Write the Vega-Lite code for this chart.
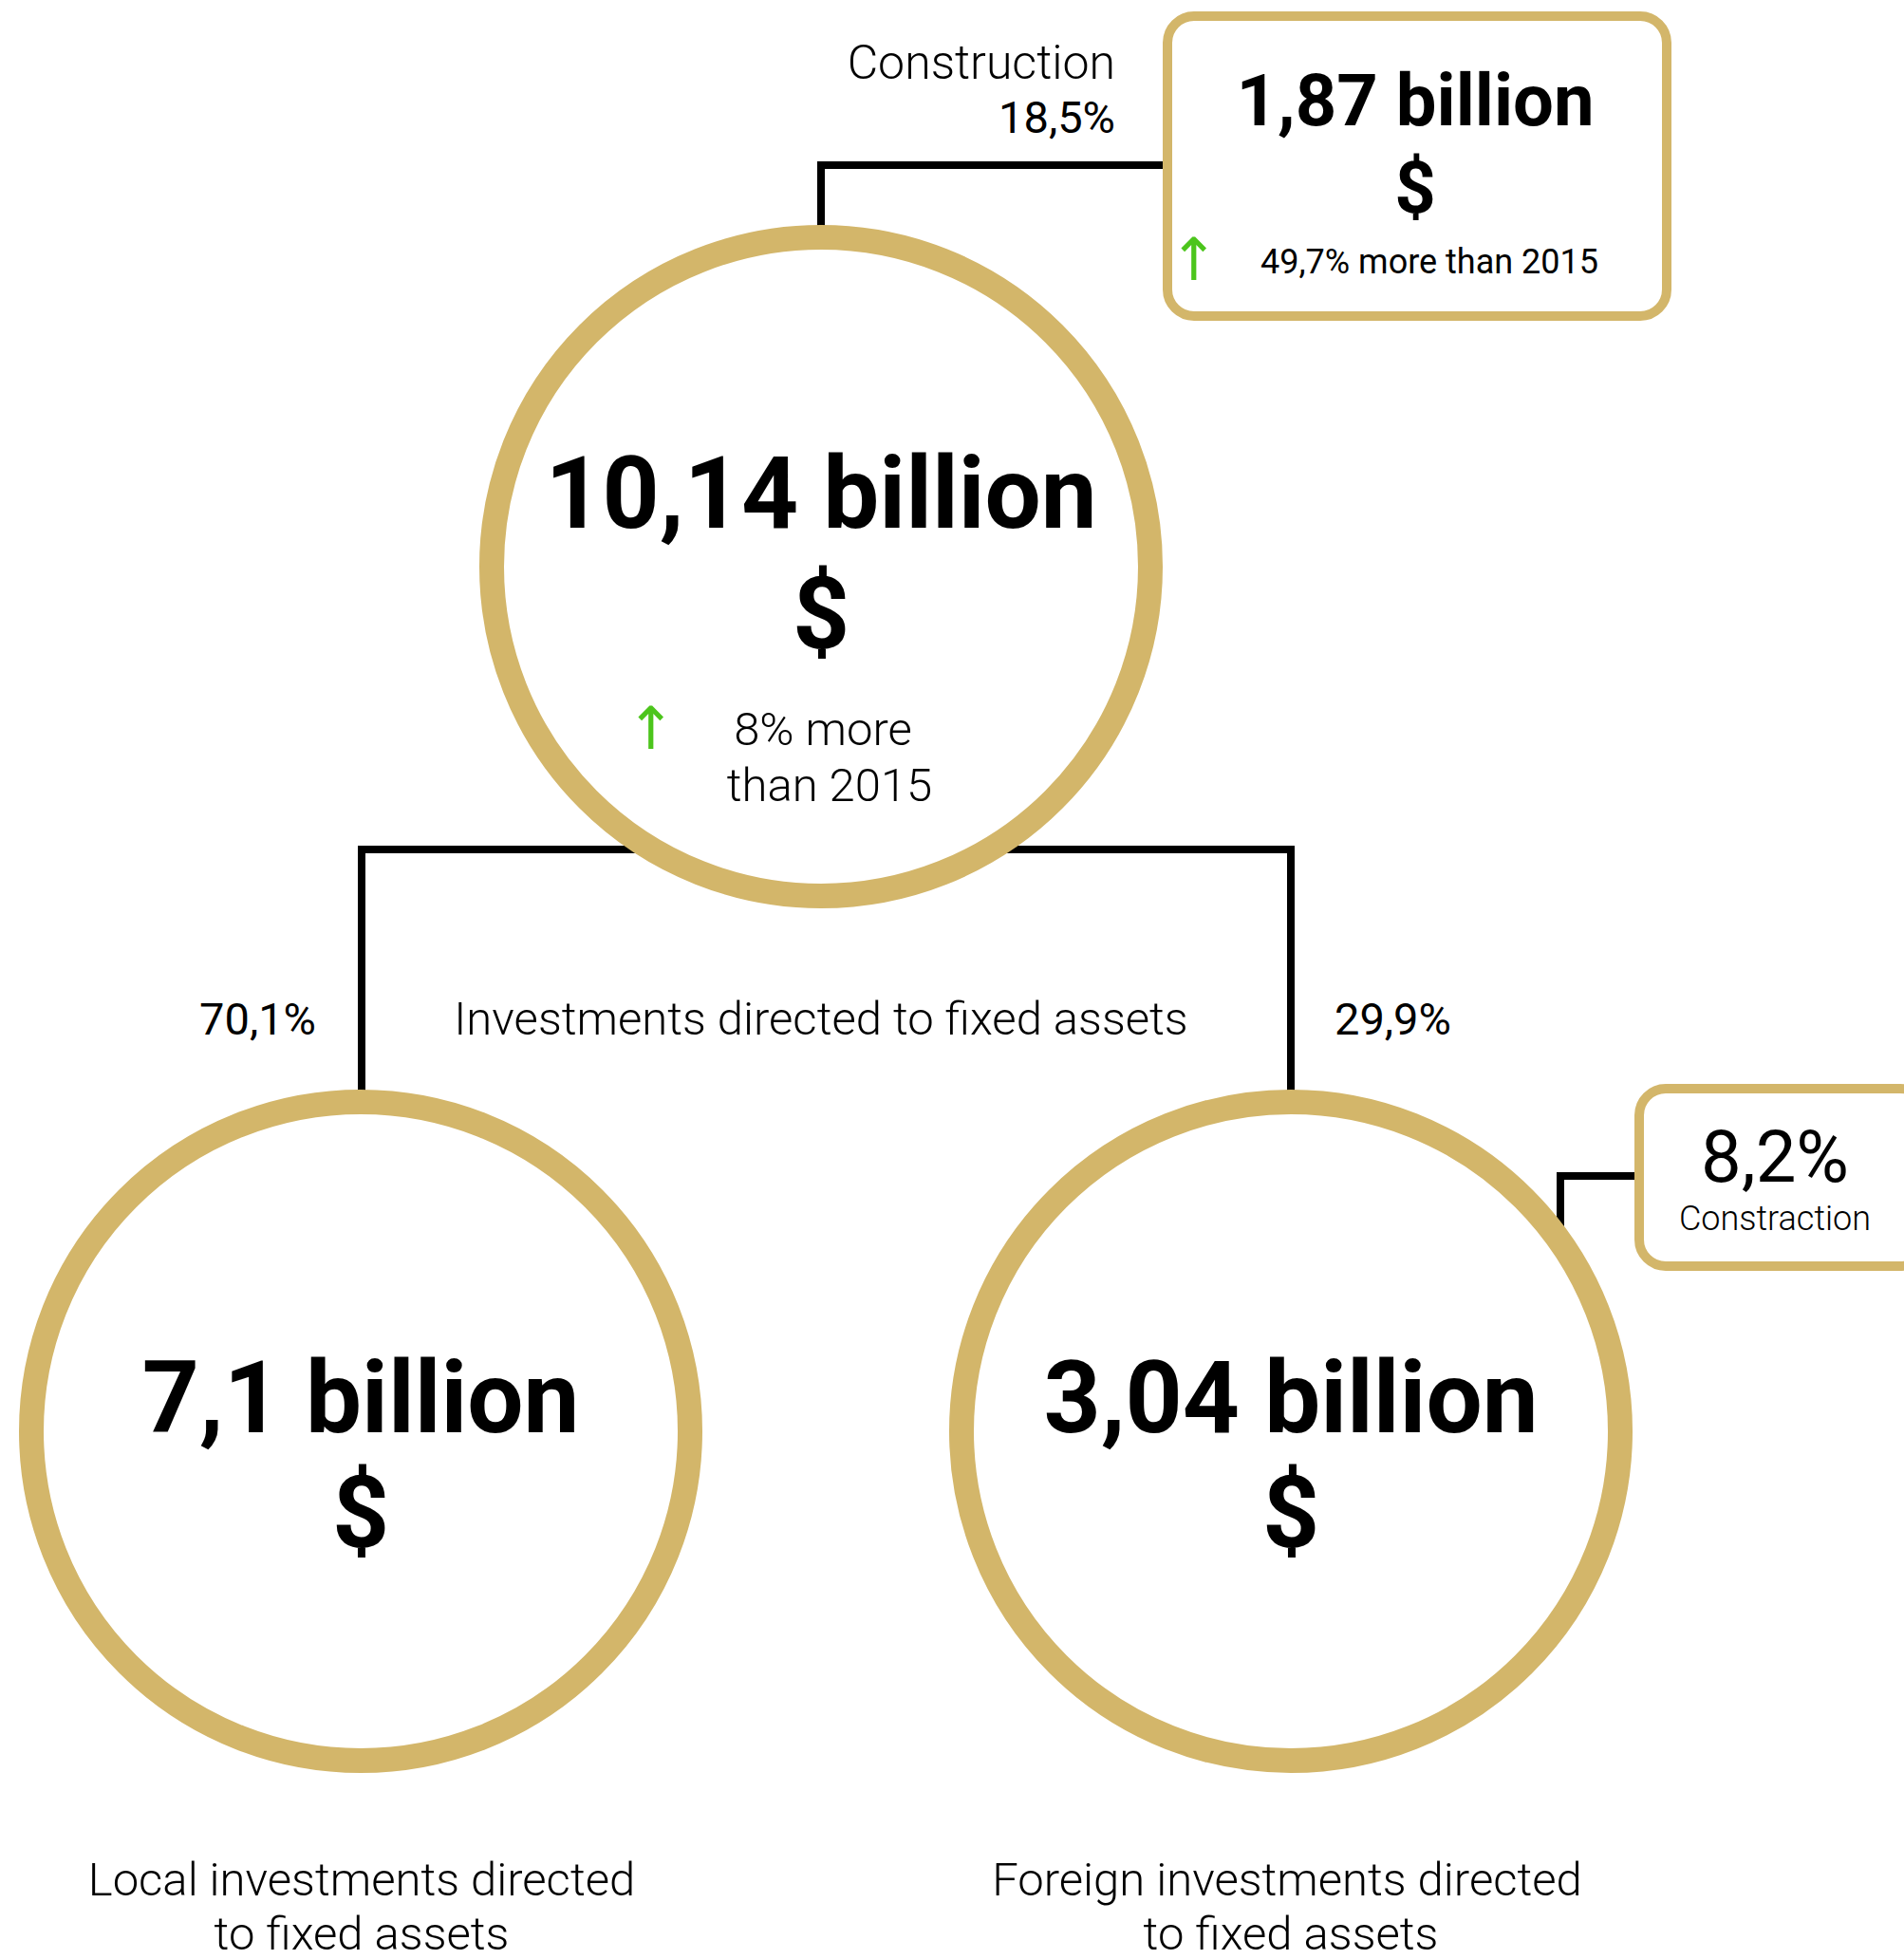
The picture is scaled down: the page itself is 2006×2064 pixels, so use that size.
{
  "$schema": "https://vega.github.io/schema/vega-lite/v6.json",
  "width": 2006,
  "height": 2064,
  "padding": 0,
  "autosize": {"type": "none"},
  "background": "white",
  "config": {"view": {"stroke": null}},
  "datasets": {
    "paths": [
      {"path": "top", "ord": 1, "x": 865, "y": 300},
      {"path": "top", "ord": 2, "x": 865, "y": 174},
      {"path": "top", "ord": 3, "x": 1228, "y": 174},
      {"path": "split", "ord": 1, "x": 381, "y": 1200},
      {"path": "split", "ord": 2, "x": 381, "y": 895},
      {"path": "split", "ord": 3, "x": 1360, "y": 895},
      {"path": "split", "ord": 4, "x": 1360, "y": 1200},
      {"path": "side", "ord": 1, "x": 1644, "y": 1320},
      {"path": "side", "ord": 2, "x": 1644, "y": 1239},
      {"path": "side", "ord": 3, "x": 1724, "y": 1239}
    ],
    "circles": [
      {"name": "total", "x": 865, "y": 597},
      {"name": "local", "x": 380, "y": 1508},
      {"name": "foreign", "x": 1360, "y": 1508}
    ],
    "boxes": [
      {"name": "construction_total", "x": 1230, "x2": 1756, "y": 17, "y2": 333},
      {"name": "construction_foreign", "x": 1727, "x2": 2030, "y": 1147, "y2": 1334}
    ],
    "texts": [
      {"role": "xl", "label": "10,14 billion", "x": 865, "y": 556},
      {"role": "xl", "label": "$", "x": 865, "y": 683},
      {"role": "xl", "label": "7,1 billion", "x": 380, "y": 1509},
      {"role": "xl", "label": "$", "x": 380, "y": 1630},
      {"role": "xl", "label": "3,04 billion", "x": 1360, "y": 1509},
      {"role": "xl", "label": "$", "x": 1360, "y": 1630},
      {"role": "boxbig", "label": "1,87 billion", "x": 1491, "y": 132},
      {"role": "boxbig", "label": "$", "x": 1491, "y": 224},
      {"role": "boxsub", "label": "49,7% more than 2015", "x": 1506, "y": 288},
      {"role": "mid", "label": "8% more", "x": 867, "y": 785},
      {"role": "mid", "label": "than 2015", "x": 874, "y": 844},
      {"role": "mid", "label": "Investments directed to fixed assets", "x": 865, "y": 1090},
      {"role": "mid", "label": "Local investments directed", "x": 381, "y": 1997},
      {"role": "mid", "label": "to fixed assets", "x": 381, "y": 2054},
      {"role": "mid", "label": "Foreign investments directed", "x": 1356, "y": 1997},
      {"role": "mid", "label": "to fixed assets", "x": 1360, "y": 2054},
      {"role": "right", "label": "Construction", "x": 1175, "y": 83},
      {"role": "pctright", "label": "18,5%", "x": 1175, "y": 140},
      {"role": "pctright", "label": "70,1%", "x": 333, "y": 1090},
      {"role": "pctleft", "label": "29,9%", "x": 1406, "y": 1090},
      {"role": "box2big", "label": "8,2%", "x": 1870, "y": 1245},
      {"role": "box2sub", "label": "Constraction", "x": 1870, "y": 1296},
      {"role": "arrow", "label": "↑", "x": 1258, "y": 276},
      {"role": "arrow", "label": "↑", "x": 686, "y": 770}
    ]
  },
  "encoding": {
    "x": {"field": "x", "type": "quantitative", "scale": {"domain": [0, 2006], "nice": false, "zero": false}, "axis": null},
    "y": {"field": "y", "type": "quantitative", "scale": {"domain": [0, 2064], "nice": false, "zero": false, "reverse": true}, "axis": null}
  },
  "layer": [
    {
      "data": {"name": "paths"},
      "mark": {"type": "line", "color": "black", "strokeWidth": 8, "strokeCap": "round", "strokeJoin": "miter"},
      "encoding": {"detail": {"field": "path"}, "order": {"field": "ord", "type": "quantitative"}}
    },
    {
      "data": {"name": "circles"},
      "mark": {"type": "point", "shape": "circle", "size": 481636, "filled": false, "fill": "white", "fillOpacity": 1, "stroke": "#D3B66A", "strokeWidth": 26, "opacity": 1}
    },
    {
      "data": {"name": "boxes"},
      "mark": {"type": "rect", "fill": "white", "stroke": "#D3B66A", "strokeWidth": 10, "cornerRadius": 28},
      "encoding": {"x2": {"field": "x2"}, "y2": {"field": "y2"}}
    },
    {
      "data": {"name": "texts"},
      "transform": [{"filter": "datum.role === 'xl'"}],
      "mark": {"type": "text", "font": "Roboto", "fontWeight": "bold", "fontSize": 105, "align": "center", "baseline": "alphabetic", "color": "black"},
      "encoding": {"text": {"field": "label"}}
    },
    {
      "data": {"name": "texts"},
      "transform": [{"filter": "datum.role === 'boxbig'"}],
      "mark": {"type": "text", "font": "Roboto", "fontWeight": "bold", "fontSize": 76, "align": "center", "baseline": "alphabetic", "color": "black"},
      "encoding": {"text": {"field": "label"}}
    },
    {
      "data": {"name": "texts"},
      "transform": [{"filter": "datum.role === 'boxsub'"}],
      "mark": {"type": "text", "font": "Roboto", "fontSize": 36, "align": "center", "baseline": "alphabetic", "color": "black"},
      "encoding": {"text": {"field": "label"}}
    },
    {
      "data": {"name": "texts"},
      "transform": [{"filter": "datum.role === 'mid'"}],
      "mark": {"type": "text", "font": "Roboto", "fontWeight": 300, "fontSize": 49, "align": "center", "baseline": "alphabetic", "color": "black"},
      "encoding": {"text": {"field": "label"}}
    },
    {
      "data": {"name": "texts"},
      "transform": [{"filter": "datum.role === 'right'"}],
      "mark": {"type": "text", "font": "Roboto", "fontWeight": 300, "fontSize": 50, "align": "right", "baseline": "alphabetic", "color": "black"},
      "encoding": {"text": {"field": "label"}}
    },
    {
      "data": {"name": "texts"},
      "transform": [{"filter": "datum.role === 'pctright'"}],
      "mark": {"type": "text", "font": "Roboto", "fontSize": 47, "align": "right", "baseline": "alphabetic", "color": "black"},
      "encoding": {"text": {"field": "label"}}
    },
    {
      "data": {"name": "texts"},
      "transform": [{"filter": "datum.role === 'pctleft'"}],
      "mark": {"type": "text", "font": "Roboto", "fontSize": 47, "align": "left", "baseline": "alphabetic", "color": "black"},
      "encoding": {"text": {"field": "label"}}
    },
    {
      "data": {"name": "texts"},
      "transform": [{"filter": "datum.role === 'box2big'"}],
      "mark": {"type": "text", "font": "Roboto", "fontSize": 76, "align": "center", "baseline": "alphabetic", "color": "black"},
      "encoding": {"text": {"field": "label"}}
    },
    {
      "data": {"name": "texts"},
      "transform": [{"filter": "datum.role === 'box2sub'"}],
      "mark": {"type": "text", "font": "Roboto", "fontWeight": 300, "fontSize": 36, "align": "center", "baseline": "alphabetic", "color": "black"},
      "encoding": {"text": {"field": "label"}}
    },
    {
      "data": {"name": "texts"},
      "transform": [{"filter": "datum.role === 'arrow'"}],
      "mark": {"type": "text", "font": "DejaVu Sans", "fontSize": 62, "align": "center", "baseline": "middle", "color": "#4CC51C"},
      "encoding": {"text": {"field": "label"}}
    }
  ]
}
